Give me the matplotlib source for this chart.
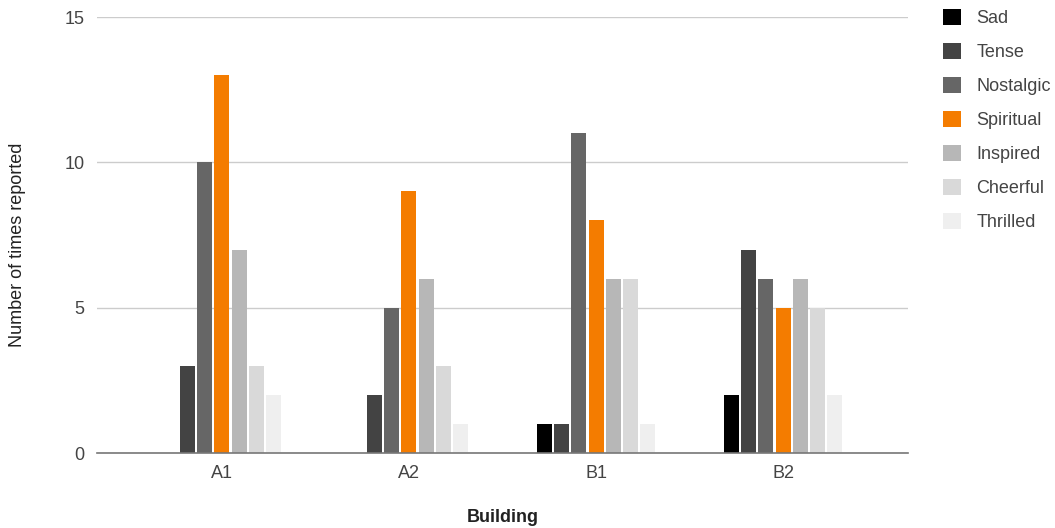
import numpy as np
import matplotlib.pyplot as plt

plt.rcParams['font.family'] = ['Liberation Sans', 'DejaVu Sans']

buildings = ['A1', 'A2', 'B1', 'B2']
moods = ['Sad', 'Tense', 'Nostalgic', 'Spiritual', 'Inspired', 'Cheerful', 'Thrilled']
sad = [0, 0, 1, 2]
tense = [3, 2, 1, 7]
nostalgic = [10, 5, 11, 6]
spiritual = [13, 9, 8, 5]
inspired = [7, 6, 6, 6]
cheerful = [3, 3, 6, 5]
thrilled = [2, 1, 1, 2]
series = [sad, tense, nostalgic, spiritual, inspired, cheerful, thrilled]
colors = ['#000000', '#434343', '#666666', '#f47c00', '#b7b7b7', '#d9d9d9', '#efefef']

fig = plt.figure(figsize=(10.55, 5.28), dpi=100)
ax = fig.add_axes([97 / 1055, 1 - 453 / 528, 811 / 1055, 436 / 528])

x = np.arange(len(buildings))
step = 0.092
width = 0.080
for i, (name, vals, c) in enumerate(zip(moods, series, colors)):
    ax.bar(x + (i - 3) * step, vals, width, color=c, label=name, zorder=3)

ax.set_xlim(-0.668, 3.668)
ax.set_ylim(0, 15)
ax.set_yticks([0, 5, 10, 15])
ax.grid(axis='y', color='#cccccc', linewidth=1, zorder=0)
for s in ['top', 'right', 'left']:
    ax.spines[s].set_visible(False)
ax.spines['bottom'].set_color('#777777')
ax.spines['bottom'].set_linewidth(1.2)
ax.spines['bottom'].set_zorder(4)
ax.set_xticks(x)
ax.set_xticklabels(buildings)
ax.tick_params(axis='both', length=0, labelsize=13, labelcolor='#444444')
ax.tick_params(axis='y', pad=9)
ax.tick_params(axis='x', pad=9)

fig.text(18 / 1055, 1 - 245 / 528, 'Number of times reported', rotation=90,
         ha='center', va='center', fontsize=13, color='#222222')
fig.text(503 / 1055, 1 - 518 / 528, 'Building', ha='center', va='center',
         fontsize=13, fontweight='bold', color='#222222')

fig.legend(loc='upper left', bbox_to_anchor=(936 / 1055, 1 - 2 / 528), frameon=False,
           fontsize=13, labelcolor='#444444', handlelength=1.0, handleheight=1.0,
           labelspacing=0.87, handletextpad=0.85, borderaxespad=0)

fig.savefig('out.png', dpi=100)
